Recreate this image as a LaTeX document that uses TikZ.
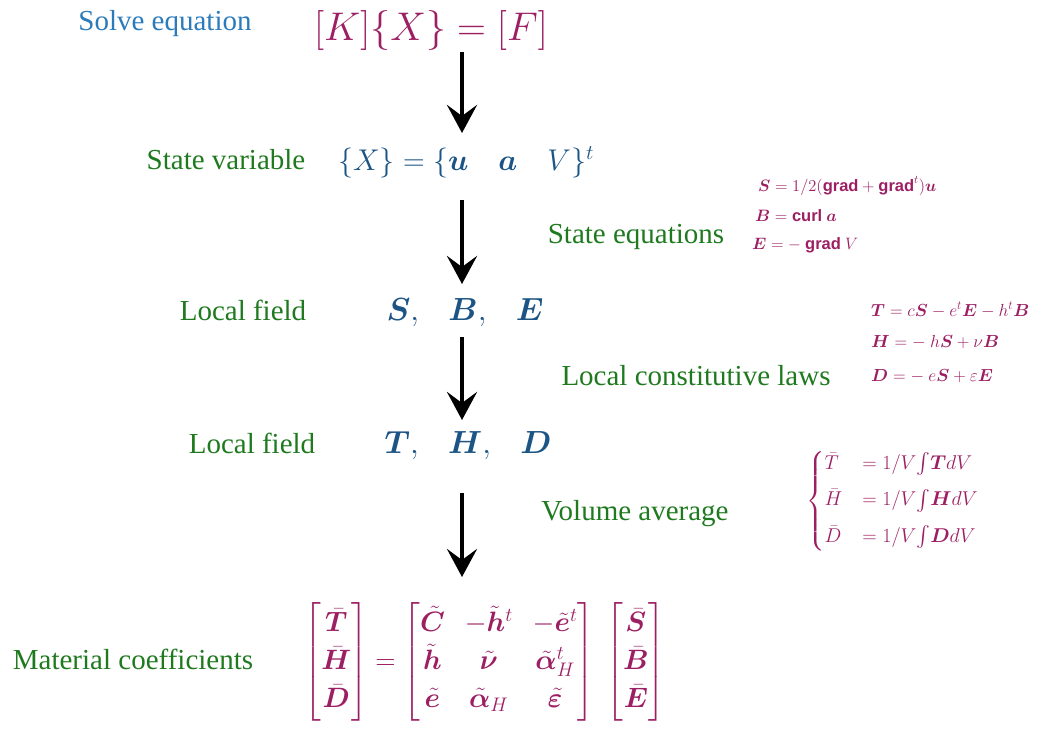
\RequirePackage{fix-cm}
\documentclass[tikz,border=0pt]{standalone}
\usepackage{amsmath}
\usepackage{bm}
\usepackage{fontspec}
\setmainfont{Liberation Serif}
\newfontfamily\gradfont{Liberation Sans}
\usetikzlibrary{arrows.meta}
\definecolor{solveblue}{HTML}{2B7BBA}
\definecolor{mag}{HTML}{9C1F63}
\definecolor{mblue}{HTML}{1B5485}
\definecolor{lgreen}{HTML}{1F7A1F}
\newcommand{\gd}{\text{\gradfont\bfseries grad}}
\newcommand{\cl}{\text{\gradfont\bfseries curl}}
\tikzset{
  lbl/.style={text=lgreen, font=\fontsize{29}{34}\selectfont, inner sep=0pt},
  big/.style={inner sep=0pt, font=\fontsize{30}{34}\selectfont},
  small/.style={text=mag, inner sep=0pt, font=\fontsize{16.5}{19}\selectfont, anchor=west},
  flow/.style={line width=4.5pt, -{Stealth[length=28pt,width=30pt,inset=11pt]}},
}
\begin{document}
\begin{tikzpicture}[x=1pt,y=-1pt]
\useasboundingbox (0,0) rectangle (1048,733);
% titles
\node[lbl, text=solveblue] (solve) at (165,24) {Solve equation};
\node[inner sep=0pt, text=mag, font=\fontsize{40}{44}\selectfont] (keq) at (431,31) {$[K]\{X\}=[F]$};
\node[lbl] (statevar) at (226,160) {State variable};
\node[big, text=mblue] (xeq) at (466,162) {$\{X\}=\{\bm u\hspace{30pt}\bm a\hspace{30pt}V\}^t$};
\node[lbl] (steq) at (636,237) {State equations};
\node[lbl] (lf1) at (243,310) {Local field};
\node[big, text=mblue, font=\fontsize{32}{36}\selectfont] (sbe) at (465,313) {$\bm S,\hspace{24pt}\bm B,\hspace{24pt}\bm E$};
\node[lbl] (lcl) at (696,376) {Local constitutive laws};
\node[lbl] (lf2) at (252,443) {Local field};
\node[big, text=mblue, font=\fontsize{32}{36}\selectfont] (thd) at (468,446) {$\bm T,\hspace{24pt}\bm H,\hspace{24pt}\bm D$};
\node[lbl] (vavg) at (635,514) {Volume average};
\node[lbl] (matc) at (133,659) {Material coefficients};
% state equations
\node[small] (e1) at (758,186) {$\bm S=1/2(\gd+\gd^t)\bm u$};
\node[small] (e2) at (755,216) {$\bm B=\cl\ \bm a$};
\node[small] (e3) at (752,245) {$\bm E=-\ \gd\ V$};
% constitutive
\node[small, font=\fontsize{17.5}{20}\selectfont] (c1) at (871,310) {$\bm T=c\bm S-e^t\bm E-h^t\bm B$};
\node[small, font=\fontsize{17.5}{20}\selectfont] (c2) at (871,342) {$\bm H=-\ h\bm S+\nu\bm B$};
\node[small, font=\fontsize{17.5}{20}\selectfont] (c3) at (871,376) {$\bm D=-\ e\bm S+\varepsilon\bm E$};
% volume average
\node[small, font=\fontsize{20}{23}\selectfont] (va) at (806,501) {$\left\{\begin{array}{@{}l@{\hspace{20pt}}l@{}}
\bar T & =1/V\!\int\!\bm T dV\\[13pt]
\bar H & =1/V\!\int\!\bm H dV\\[13pt]
\bar D & =1/V\!\int\!\bm D dV
\end{array}\right.$};
% matrix
\node[inner sep=0pt, text=mag, font=\fontsize{28}{32}\selectfont] (mat) at (485,662) {$\renewcommand{\arraystretch}{1.18}\setlength{\arraycolsep}{10pt}
\begin{bmatrix}\bar{\bm T}\\ \bar{\bm H}\\ \bar{\bm D}\end{bmatrix}
=
\begin{bmatrix}\tilde{\bm C} & -\tilde{\bm h}^t & -\tilde{\bm e}^t\\
\tilde{\bm h} & \tilde{\bm \nu} & \tilde{\bm\alpha}_H^t\\
\tilde{\bm e} & \tilde{\bm\alpha}_H & \tilde{\bm\varepsilon}\end{bmatrix}
\;
\begin{bmatrix}\bar{\bm S}\\ \bar{\bm B}\\ \bar{\bm E}\end{bmatrix}$};
% arrows
\coordinate (a1s) at (462,52); \coordinate (a1e) at (462,133);
\coordinate (a2s) at (462,200); \coordinate (a2e) at (462,284);
\coordinate (a3s) at (462,337); \coordinate (a3e) at (462,420);
\coordinate (a4s) at (462,493); \coordinate (a4e) at (462,577);
\draw[flow] (a1s) -- (a1e);
\draw[flow] (a2s) -- (a2e);
\draw[flow] (a3s) -- (a3e);
\draw[flow] (a4s) -- (a4e);
\end{tikzpicture}
\end{document}
